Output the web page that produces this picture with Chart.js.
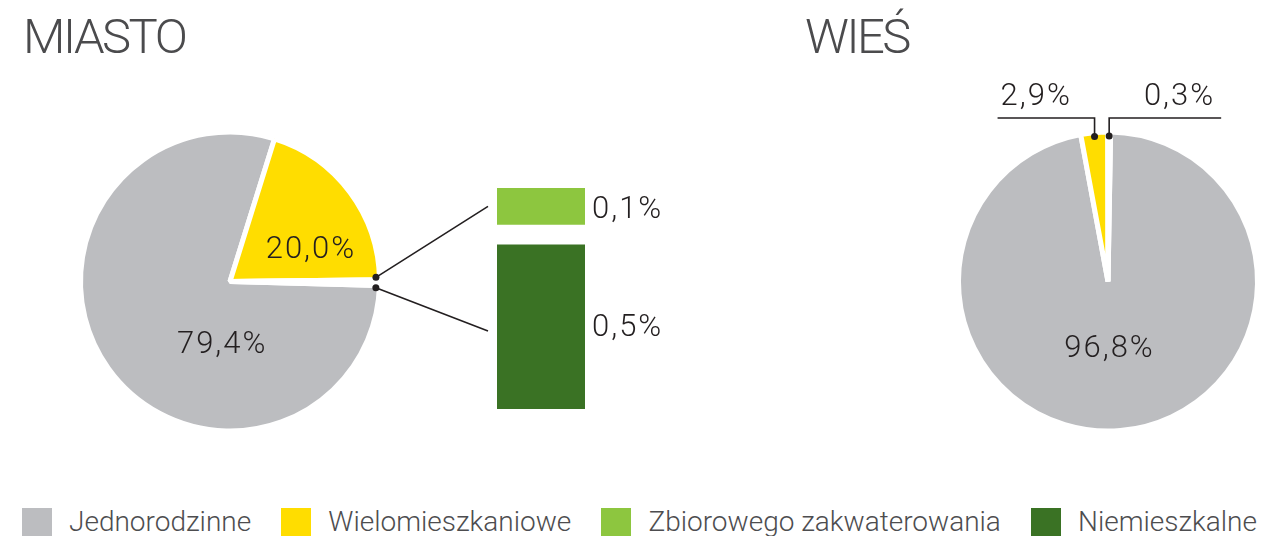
<!DOCTYPE html>
<html lang="pl">
<head>
<meta charset="utf-8">
<script src="https://cdn.jsdelivr.net/npm/chart.js@4.4.1/dist/chart.umd.min.js"></script>
<style>
  html, body {
    margin: 0;
    padding: 0;
    background: #fff;
    width: 1265px;
    height: 536px;
    overflow: hidden;
    position: relative;
    font-family: Roboto, "Open Sans", sans-serif;
  }
  .title {
    position: absolute;
    top: 12px;
    font-size: 49px;
    font-weight: 300;
    line-height: 49px;
    letter-spacing: -2.5px;
    color: #4b4b4d;
  }
  canvas { position: absolute; }
  #miasto { left: 60px; top: 114px; }
  #detail { left: 360px; top: 150px; }
  #wies { left: 953px; top: 60px; }
  #legend {
    position: absolute;
    left: 22px;
    right: 8px;
    top: 508px;
    height: 30px;
    display: flex;
    justify-content: space-between;
  }
  .item { display: flex; align-items: flex-start; }
  .swatch { width: 30px; height: 30px; margin-right: 17px; }
  .label {
    font-size: 28px;
    font-weight: 300;
    line-height: 28px;
    color: #4d4d4f;
    white-space: nowrap;
  }
</style>
</head>
<body>
<div class="title" style="left:23px">MIASTO</div>
<div class="title" style="left:805px">WIEŚ</div>
<canvas id="miasto" width="340" height="335"></canvas>
<canvas id="detail" width="340" height="280"></canvas>
<canvas id="wies" width="310" height="443"></canvas>
<div id="legend"></div>

<script>
// --- Data ---
const categories = ["Jednorodzinne", "Wielomieszkaniowe", "Zbiorowego zakwaterowania", "Niemieszkalne"];
const colors = ["#bcbdc0", "#ffdd00", "#8dc63f", "#3a7224"];

const miastoValues = [79.4, 20.0, 0.1, 0.5];
const wiesLabels = ["Jednorodzinne", "Wielomieszkaniowe", "Pozostałe"];
const wiesValues = [96.8, 2.9, 0.3];

const textColor = "#231f20";
const labelFont = "300 31px Roboto, sans-serif";

function pct(v) {
  return v.toFixed(1).replace(".", ",") + "%";
}

function drawText(ctx, text, x, y, align) {
  ctx.save();
  ctx.font = labelFont;
  ctx.fillStyle = textColor;
  ctx.textAlign = align || "center";
  ctx.textBaseline = "middle";
  ctx.letterSpacing = "2px";
  ctx.fillText(text, x, y);
  ctx.restore();
}

function dot(ctx, x, y) {
  ctx.beginPath();
  ctx.arc(x, y, 3.5, 0, Math.PI * 2);
  ctx.fillStyle = textColor;
  ctx.fill();
}

// labels inside the pie, placed by angle (deg from top) and radius fraction
const sliceLabels = {
  id: "sliceLabels",
  afterDatasetsDraw(chart, args, opts) {
    const ctx = chart.ctx;
    const arcs = chart.getDatasetMeta(0).data;
    const values = chart.data.datasets[0].data;
    (opts.items || []).forEach(item => {
      const arc = arcs[item.index];
      const a = (item.angle - 90) * Math.PI / 180;
      const r = arc.outerRadius * item.r;
      drawText(ctx, pct(values[item.index]), arc.x + r * Math.cos(a), arc.y + r * Math.sin(a));
    });
  }
};

// callouts above the village pie
const callouts = {
  id: "callouts",
  afterDatasetsDraw(chart, args, opts) {
    const ctx = chart.ctx;
    const arcs = chart.getDatasetMeta(0).data;
    const values = chart.data.datasets[0].data;
    (opts.items || []).forEach(item => {
      const arc = arcs[item.index];
      const a = (arc.startAngle + arc.endAngle) / 2;
      const r = arc.outerRadius - 4;
      const x = arc.x + r * Math.cos(a);
      const y = arc.y + r * Math.sin(a);
      const endX = item.side === "left" ? x - item.length : x + item.length;
      ctx.save();
      ctx.strokeStyle = textColor;
      ctx.lineWidth = 1.6;
      ctx.beginPath();
      ctx.moveTo(x, y);
      ctx.lineTo(x, opts.lineY);
      ctx.lineTo(endX, opts.lineY);
      ctx.stroke();
      ctx.restore();
      dot(ctx, x, y);
      if (item.side === "left") {
        drawText(ctx, pct(values[item.index]), endX + 3, opts.lineY - 21, "left");
      } else {
        drawText(ctx, pct(values[item.index]), endX - 6, opts.lineY - 21, "right");
      }
    });
  }
};

const pieBorder = 5;

const miastoChart = new Chart(document.getElementById("miasto"), {
  type: "pie",
  data: {
    labels: categories,
    datasets: [{
      data: miastoValues,
      backgroundColor: [colors[0], colors[1], "#ffffff", "#ffffff"],
      borderColor: "#ffffff",
      borderWidth: pieBorder
    }]
  },
  options: {
    responsive: false,
    animation: false,
    events: [],
    radius: 149.5,
    rotation: 91.5,
    layout: { padding: 0 },
    plugins: {
      legend: { display: false },
      tooltip: { enabled: false },
      sliceLabels: {
        items: [
          { index: 1, angle: 69, r: 0.58 },
          { index: 0, angle: 187, r: 0.43 }
        ]
      }
    }
  },
  plugins: [sliceLabels]
});

// stacked bar showing the two tiny city slices, plus connector lines
const detailPlugin = {
  id: "detailLinks",
  afterDatasetsDraw(chart) {
    const ctx = chart.ctx;
    const dark = chart.getDatasetMeta(0).data[0];
    const light = chart.getDatasetMeta(1).data[0];
    const gap = chart.data.datasets[0].borderWidth.top;
    const left = dark.x - dark.width / 2;
    const right = dark.x + dark.width / 2;

    const lightMid = (light.y + light.base) / 2;
    const darkMid = (dark.y + gap + dark.base) / 2;

    drawText(ctx, pct(chart.data.datasets[1].data[0]), right + 7, lightMid + 4, "left");
    drawText(ctx, pct(chart.data.datasets[0].data[0]), right + 7, darkMid + 1, "left");

    // dots on the pie rim, at the edges of the small slices
    const arcs = miastoChart.getDatasetMeta(0).data;
    const pieCanvas = miastoChart.canvas;
    const dx = pieCanvas.offsetLeft - chart.canvas.offsetLeft;
    const dy = pieCanvas.offsetTop - chart.canvas.offsetTop;
    const rVis = arcs[2].outerRadius - pieBorder / 2 - 1;
    const half = (pieBorder / 2) / rVis;
    const a1 = arcs[2].startAngle - half;
    const a2 = arcs[3].endAngle + half;
    const p1 = { x: arcs[2].x + rVis * Math.cos(a1) + dx, y: arcs[2].y + rVis * Math.sin(a1) + dy };
    const p2 = { x: arcs[3].x + rVis * Math.cos(a2) + dx, y: arcs[3].y + rVis * Math.sin(a2) + dy };

    ctx.save();
    ctx.strokeStyle = textColor;
    ctx.lineWidth = 1.6;
    ctx.beginPath();
    ctx.moveTo(p1.x, p1.y);
    ctx.lineTo(left - 9, lightMid);
    ctx.moveTo(p2.x, p2.y);
    ctx.lineTo(left - 9, darkMid + 4);
    ctx.stroke();
    ctx.restore();
    dot(ctx, p1.x, p1.y);
    dot(ctx, p2.x, p2.y);
  }
};

const detailChart = new Chart(document.getElementById("detail"), {
  type: "bar",
  data: {
    labels: ["MIASTO"],
    datasets: [
      {
        label: categories[3],
        data: [miastoValues[3]],
        backgroundColor: colors[3],
        borderColor: "#ffffff",
        borderWidth: { top: 20, right: 0, bottom: 0, left: 0 },
        borderSkipped: false
      },
      {
        label: categories[2],
        data: [miastoValues[2]],
        backgroundColor: colors[2],
        borderWidth: 0
      }
    ]
  },
  options: {
    responsive: false,
    animation: false,
    events: [],
    layout: { padding: { left: 137, right: 115, top: 38, bottom: 21 } },
    datasets: { bar: { barPercentage: 1, categoryPercentage: 1 } },
    scales: {
      x: { display: false, stacked: true },
      y: { display: false, stacked: true, min: 0, max: 0.6 }
    },
    plugins: {
      legend: { display: false },
      tooltip: { enabled: false }
    }
  },
  plugins: [detailPlugin]
});

const wiesChart = new Chart(document.getElementById("wies"), {
  type: "pie",
  data: {
    labels: wiesLabels,
    datasets: [{
      data: wiesValues,
      backgroundColor: [colors[0], colors[1], "#ffffff"],
      borderColor: "#ffffff",
      borderWidth: pieBorder
    }]
  },
  options: {
    responsive: false,
    animation: false,
    events: [],
    radius: 149.5,
    rotation: 1,
    layout: { padding: 0 },
    plugins: {
      legend: { display: false },
      tooltip: { enabled: false },
      sliceLabels: {
        items: [{ index: 0, angle: 178.7, r: 0.455 }]
      },
      callouts: {
        lineY: 58,
        items: [
          { index: 1, side: "left", length: 97 },
          { index: 2, side: "right", length: 112 }
        ]
      }
    }
  },
  plugins: [sliceLabels, callouts]
});

// --- Legend ---
const legend = document.getElementById("legend");
categories.forEach((name, i) => {
  const item = document.createElement("div");
  item.className = "item";
  item.innerHTML = `<div class="swatch" style="background:${colors[i]}"></div><div class="label">${name}</div>`;
  legend.appendChild(item);
});
</script>
</body>
</html>
